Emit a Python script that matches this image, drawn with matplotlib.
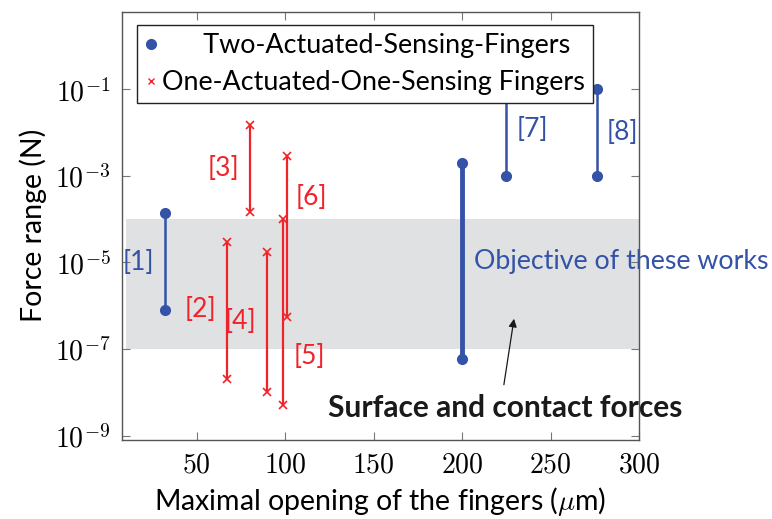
import matplotlib
matplotlib.use("Agg")
import matplotlib.pyplot as plt
import numpy as np

# Data
blue_x = [32, 200, 225, 276]
blue_lo = [7.8e-7, 6e-8, 1e-3, 1e-3]
blue_hi = [1.4e-4, 2e-3, 1e-1, 1e-1]
blue_lw = [1.8, 3.5, 1.8, 1.8]

red_x = [67, 80, 90, 99, 101]
red_lo = [2e-8, 1.5e-4, 1e-8, 5e-9, 5.4e-7]
red_hi = [3e-5, 1.5e-2, 1.7e-5, 1e-4, 2.8e-3]

ref_labels = ["[1]", "[2]", "[3]", "[4]", "[5]", "[6]", "[7]", "[8]"]
ref_x = [17, 52, 65, 74.5, 113.6, 115, 240, 290.6]
ref_y = [1.0e-5, 8e-7, 1.5e-3, 4.3e-7, 6.6e-8, 3.2e-4, 1.15e-2, 9.8e-3]
ref_col = ["b", "r", "r", "r", "r", "r", "b", "b"]

band_x = [10, 300]
band_y = [1e-7, 1e-4]

legend_labels = ["Two-Actuated-Sensing-Fingers", "One-Actuated-One-Sensing Fingers"]
x_ticks = [50, 100, 150, 200, 250, 300]
y_ticks_exp = [-9, -7, -5, -3, -1]

BLUE = "#3452a6"
RED = "#f0222a"

plt.rcParams["mathtext.fontset"] = "cm"
plt.rcParams["font.family"] = ["Lato", "DejaVu Sans"]

fig = plt.figure(figsize=(7.72, 5.19), dpi=100)
ax = fig.add_axes([0.1576, 0.1522, 0.6701, 0.8253])

ax.fill_between(band_x, band_y[0], band_y[1], color="#e0e1e3", lw=0, zorder=0)

for x, lo, hi, lw in zip(blue_x, blue_lo, blue_hi, blue_lw):
    ax.plot([x, x], [lo, hi], color=BLUE, lw=lw, marker="o", ms=7, zorder=3)
for x, lo, hi in zip(red_x, red_lo, red_hi):
    ax.plot([x, x], [lo, hi], color=RED, lw=1.6, marker="x", ms=6, mew=1.2, zorder=3)

for t, x, y, c in zip(ref_labels, ref_x, ref_y, ref_col):
    ax.text(x, y, t, color=BLUE if c == "b" else RED, fontsize=19,
            ha="center", va="center", zorder=4)

ax.text(207, 1.07e-5, "Objective of these works", color=BLUE, fontsize=19.3,
        ha="left", va="center", clip_on=False, zorder=4)
ax.text(124, 2.75e-9, "Surface and contact forces", color="#1a1a1a", fontsize=21.5,
        fontweight="bold", ha="left", va="baseline", clip_on=False, zorder=2)
ax.annotate("", xy=(229.6, 5.8e-7), xytext=(223.4, 1.3e-8),
            arrowprops=dict(arrowstyle="-|>", color="#1a1a1a", lw=0.9,
                            mutation_scale=12), zorder=4)

ax.set_yscale("log")
ax.set_xlim(7.6, 300)
ax.set_ylim(10 ** -9.1, 10 ** 0.79)
ax.set_xticks(x_ticks)
ax.set_xticklabels([f"${v}$" for v in x_ticks])
ax.set_yticks([10.0 ** e for e in y_ticks_exp])
ax.set_yticklabels([rf"$10^{{{e}}}$" for e in y_ticks_exp])
ax.minorticks_off()
ax.tick_params(axis="both", which="major", direction="in", top=True, right=True,
               length=6, width=0.8, color="#777777", labelsize=20, pad=8)
for s in ax.spines.values():
    s.set_color("#555555")
    s.set_linewidth(1.0)
    s.set_zorder(5)

ax.set_xlabel(r"Maximal opening of the fingers ($\mu$m)", fontsize=20.5, labelpad=6)
ax.set_ylabel("Force range (N)", fontsize=20.5, labelpad=6)

h1, = ax.plot([], [], "o", color=BLUE, ms=7)
h2, = ax.plot([], [], "x", color=RED, ms=5, mew=1.0)
leg = ax.legend([h1, h2], ["      " + legend_labels[0], legend_labels[1]],
                loc="upper left", bbox_to_anchor=(0.029, 0.969), fontsize=19.4,
                frameon=True, fancybox=False, edgecolor="#222222", framealpha=1,
                handlelength=0.5, handletextpad=0.15, borderpad=0.3, labelspacing=0.45,
                borderaxespad=0)
leg.get_frame().set_linewidth(1.0)
leg.set_zorder(10)

fig.savefig("out.png", dpi=100)
